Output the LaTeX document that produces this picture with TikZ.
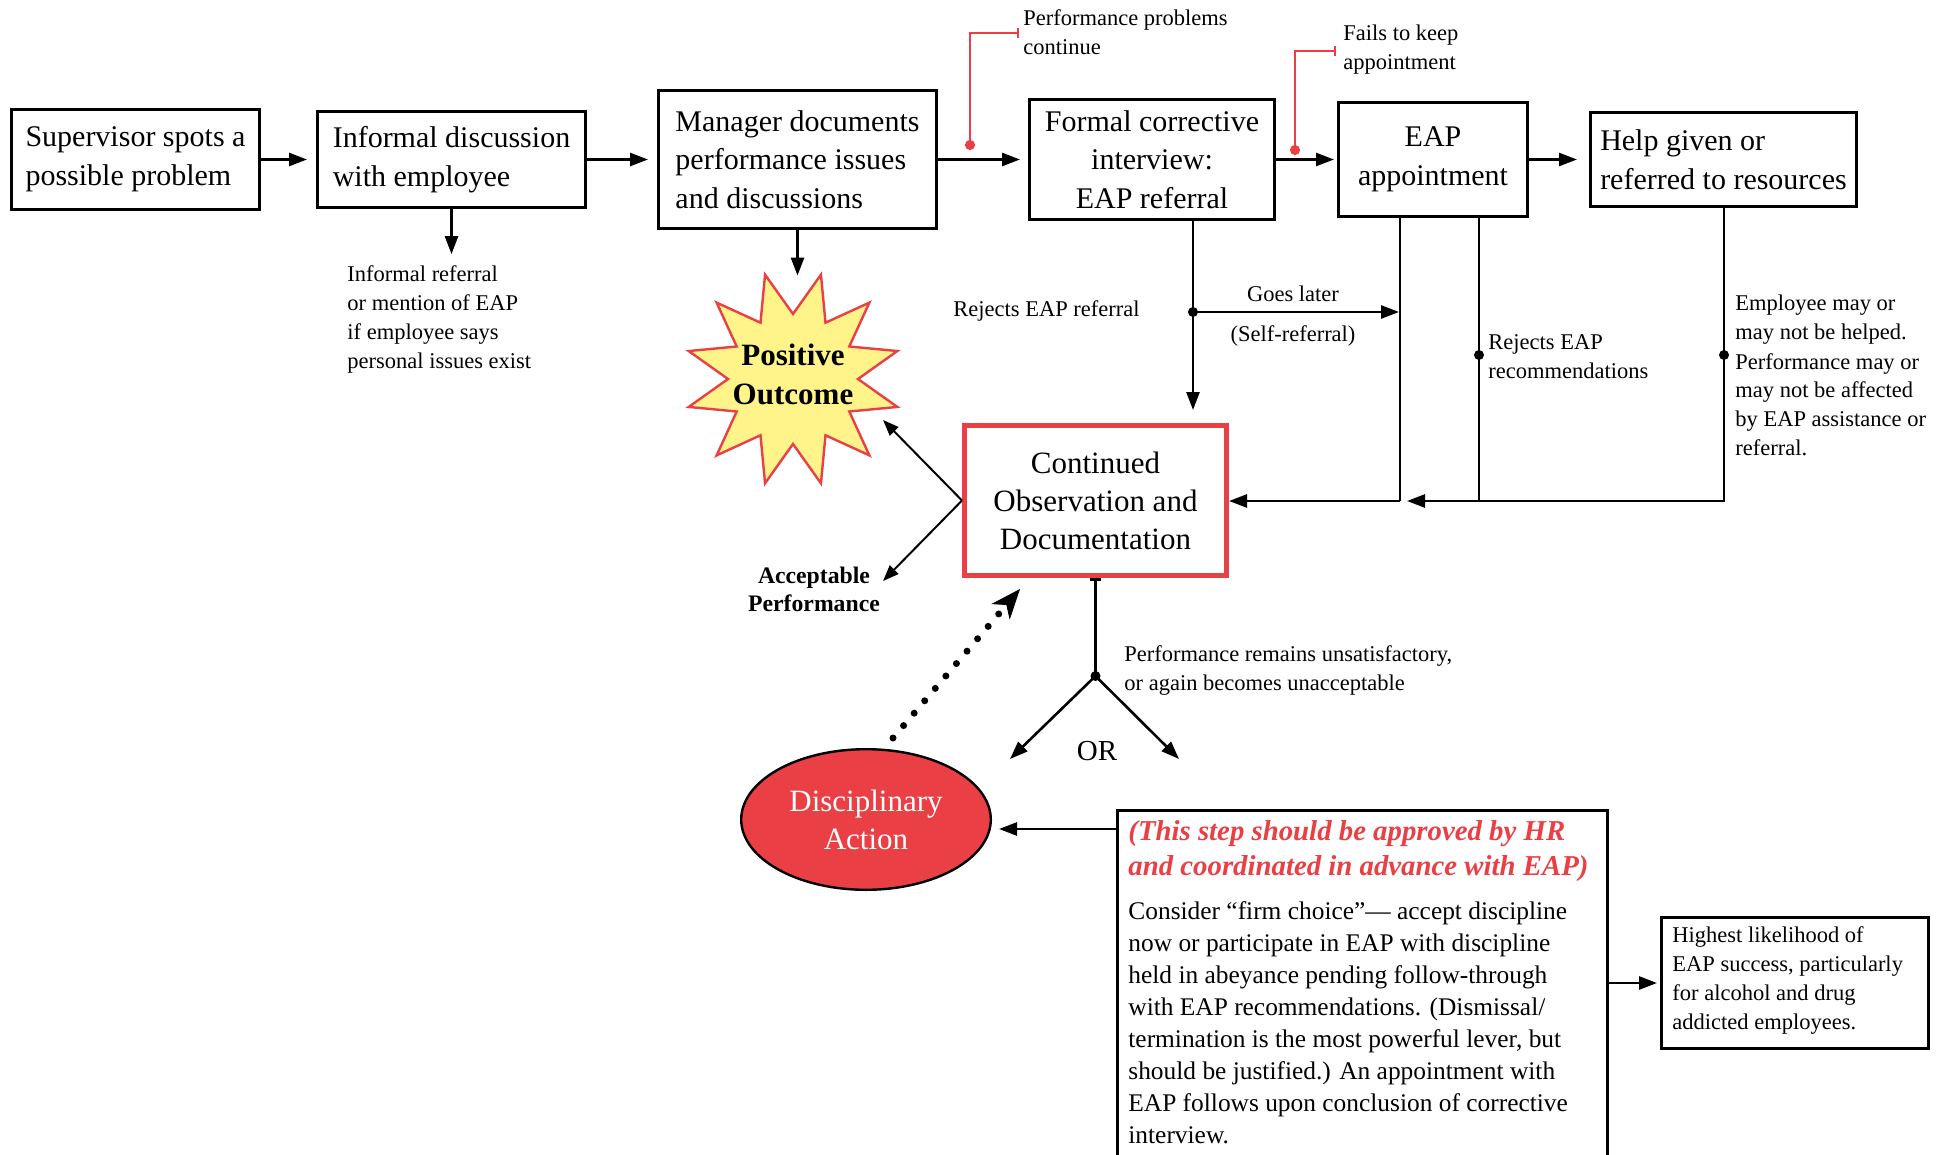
\documentclass[tikz,border=0pt]{standalone}
\usepackage{fontspec}
\setmainfont{Liberation Serif}
\usetikzlibrary{arrows.meta,shapes.geometric}
\definecolor{eapred}{RGB}{234,64,69}
\definecolor{staryellow}{RGB}{255,244,138}
\newcommand\tl[1]{\vtop{\halign{##\hfil\cr#1\crcr}}}
\newcommand\tc[1]{\vtop{\halign{\hfil##\hfil\cr#1\crcr}}}
\tikzset{
  box/.style={draw, rectangle, line width=1.35pt, inner sep=0pt, font=\fontsize{15}{19.25}\selectfont},
  arr/.style={line width=1.3pt, -{Triangle[length=9pt,width=6.5pt]}},
  thinarr/.style={line width=1pt, -{Triangle[length=8pt,width=6pt]}},
  ln/.style={line width=1.3pt},
  small/.style={inner sep=0pt, font=\fontsize{11.25}{14.5}\selectfont},
  redcall/.style={draw=eapred, line width=1pt, {Circle[length=5pt]}-{Bar[width=5pt]}},
  dotarr/.style={line width=3.5pt, line cap=round, dash pattern=on 0pt off 8.15pt,
     -{Stealth[length=15pt,width=12pt,inset=4.5pt,line width=0.4pt]}},
}
\begin{document}
\begin{tikzpicture}[x=0.5pt,y=-0.5pt]
\path[use as bounding box] (0,0) rectangle (1944,1155);
\clip (0,0) rectangle (1944,1155);
\fill[white] (0,0) rectangle (1944,1155);

% ---- top row boxes
\node[box, minimum width=124.15pt, minimum height=50.15pt] (b1) at (135.5,159.5)
  {\tl{Supervisor spots a\cr possible problem}};
\node[box, minimum width=134.15pt, minimum height=48.15pt] (b2) at (451.5,159.5)
  {\tl{Informal discussion\cr with employee}};
\node[box, minimum width=139.15pt, minimum height=69.15pt] (b3) at (797.5,159.5)
  {\tl{Manager documents\cr performance issues\cr and discussions}};
\node[box, minimum width=122.65pt, minimum height=60.15pt] (b4) at (1152,159.5)
  {\tc{Formal corrective\cr interview:\cr EAP referral}};
\node[box, minimum width=94.65pt, minimum height=57.15pt] (b5) at (1433,159.5)
  {\tc{EAP\cr appointment}};
\node[box, minimum width=133.15pt, minimum height=47.15pt] (b6) at (1723.5,159.5)
  {\tl{Help given or\cr referred to resources}};

\draw[arr, shorten >=4.5pt] (b1.east) -- (b2.west);
\draw[arr, shorten >=4.5pt] (b2.east) -- (b3.west);
\draw[arr, shorten >=4pt] (b3.east) -- (b4.west);
\draw[arr, shorten >=1.5pt] (b4.east) -- (b5.west);
\draw[arr, shorten >=6pt] (b5.east) -- (b6.west);

% ---- red callouts
\node[small, anchor=base west] (ppt) at (1023,26) {\tl{Performance problems\cr continue}};
\node[small, anchor=base west] (fkt) at (1343,41) {\tl{Fails to keep\cr appointment}};
\coordinate (pp1) at (970,150);
\coordinate (pp2) at (1019,33);
\coordinate (fk1) at (1295,155);
\coordinate (fk2) at (1336,51);
\draw[redcall] (pp1) |- (pp2);
\draw[redcall] (fk1) |- (fk2);

% ---- informal referral
\node[small, anchor=base west] (ir) at (347,282)
  {\tl{Informal referral\cr or mention of EAP\cr if employee says\cr personal issues exist}};
\draw[arr, shorten >=5.8pt] (b2.south) -- (b2.south |- ir.north);

% ---- positive outcome star
\begin{scope}[shift={(793,379)}]
\filldraw[draw=eapred, fill=staryellow, line width=1.2pt, line join=miter]
  (15:108) \foreach \i in {0,...,11} { -- (\i*30+30:65) -- (\i*30+45:108) } -- cycle;
\end{scope}
\node[circle, minimum size=98pt, inner sep=0pt, font=\bfseries\fontsize{15.5}{19.5}\selectfont] (po) at (793,374)
  {\tc{Positive\cr Outcome}};
\draw[arr] (b3.south) -- (b3.south |- po.north);

% ---- continued observation
\node[draw=eapred, line width=2.5pt, rectangle, inner sep=0pt, minimum width=131pt, minimum height=75pt,
      font=\fontsize{15.5}{19}\selectfont] (cob) at (1095.5,500.5)
  {\tc{Continued\cr Observation and\cr Documentation}};

\node[small, anchor=base west] (rej) at (953,316) {Rejects EAP referral};
\coordinate (j1) at (1193,312);
\coordinate (c5a) at (1400,501);
\coordinate (c5b) at (1479,501);
\coordinate (c6) at (1724,501);
\coordinate (d5b) at (1479,355);
\coordinate (d6) at (1724,355);
\draw[arr, shorten >=6.5pt] (b4.south -| j1) -- (j1 |- cob.north);
\draw[arr, shorten >=0.5pt] (j1) -- (j1 -| c5a);
\node[small, anchor=base] (gl) at (1293,302) {Goes later};
\node[small, anchor=base] (sr) at (1293,342) {(Self-referral)};
\draw[ln] (b5.south -| c5a) -- (c5a);
\draw[arr] (c5a) -- (c5a -| cob.east);
\draw[ln] (b5.south -| c5b) -- (c5b);
\draw[arr, shorten >=3.5pt] (b6.south -| c6) -- (c6) -- (c5a);
\fill (j1) circle[radius=2.5pt];
\fill (d5b) circle[radius=2.5pt];
\fill (d6) circle[radius=2.5pt];
\node[small, anchor=base west] (rer) at (1488,350) {\tl{Rejects EAP\cr recommendations}};
\node[small, anchor=base west] (emp) at (1735,311)
  {\tl{Employee may or\cr may not be helped.\cr Performance may or\cr may not be affected\cr by EAP assistance or\cr referral.}};

% ---- acceptable performance
\coordinate (potip) at (883,420);
\coordinate (actip) at (883,581);
\draw[thinarr] (cob.west) -- (potip);
\draw[thinarr] (cob.west) -- (actip);
\node[anchor=base, inner sep=0pt, font=\bfseries\fontsize{11.85}{14}\selectfont] (acc) at (814,583.5)
  {\tc{Acceptable\cr Performance}};

% ---- performance remains / OR
\coordinate (jor) at (1095.5,676);
\coordinate (orl) at (1010,759);
\coordinate (orr) at (1179,759);
\draw[ln, {Bar[width=5.5pt]}-] (cob.south) -- (jor);
\draw[arr] (jor) -- (orl);
\draw[arr] (jor) -- (orr);
\fill (jor) circle[radius=2.5pt];
\node[anchor=base, inner sep=0pt, font=\fontsize{14.5}{17}\selectfont] (ortext) at (1097,760) {OR};
\node[small, anchor=base west] (prm) at (1124,661)
  {\tl{Performance remains unsatisfactory,\cr or again becomes unacceptable}};

% ---- disciplinary action
\node[ellipse, draw=black, fill=eapred, line width=1.2pt, inner sep=0pt, minimum width=124.8pt, minimum height=70.3pt,
      text=white, font=\fontsize{15.5}{19}\selectfont] (da) at (866,819.5)
  {\tc{Disciplinary\cr Action}};
\coordinate (dotA) at (893,738);
\coordinate (dotB) at (1020,589);
\draw[dotarr] (dotA) -- (dotB);

% ---- HR box
\node[draw, rectangle, line width=1.35pt, inner sep=0pt, minimum width=245.15pt, minimum height=219.15pt] (hr) at (1362.5,1029.5) {};
\node[anchor=base west, inner sep=0pt, text=eapred, font=\bfseries\itshape\fontsize{14.4}{17.5}\selectfont] (hrred) at (1128,840)
  {\tl{(This step should be approved by HR\cr and coordinated in advance with EAP)}};
\node[anchor=base west, inner sep=0pt, font=\fontsize{12.7}{16}\selectfont] (hrtext) at (1128,919)
  {\tl{Consider “firm choice”— accept discipline\cr
       now or participate in EAP with discipline\cr
       held in abeyance pending follow-through\cr
       with EAP recommendations. (Dismissal/\cr
       termination is the most powerful lever, but\cr
       should be justified.) An appointment with\cr
       EAP follows upon conclusion of corrective\cr
       interview.}};
\coordinate (hrl) at ([yshift=-10pt]hr.north west);
\draw[arr, shorten >=3.5pt] (hrl) -- (hrl -| da.east);

% ---- highest likelihood box
\node[box, minimum width=133.65pt, minimum height=65.65pt] (hl) at (1795,983) {};
\node[small, anchor=base west] (hlt) at (1672,942)
  {\tl{Highest likelihood of\cr EAP success, particularly\cr for alcohol and drug\cr addicted employees.}};
\draw[arr, shorten >=1.5pt] (hl.west -| hr.east) -- (hl.west);
\end{tikzpicture}
\end{document}
